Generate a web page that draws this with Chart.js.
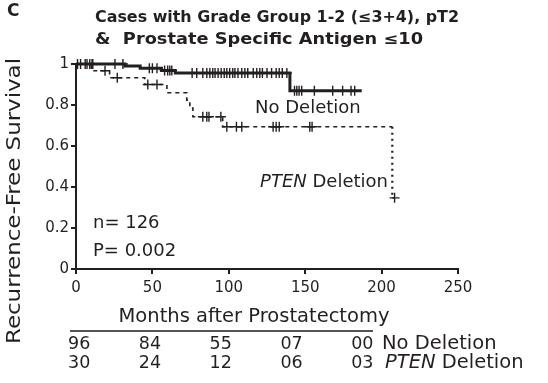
<!DOCTYPE html>
<html><head><meta charset="utf-8">
<script src="https://cdn.jsdelivr.net/npm/chart.js@4/dist/chart.umd.min.js"></script>
<style>html,body{margin:0;padding:0;background:#fff}#wrap{width:548px;height:383px;position:relative}</style>
</head><body><div id="wrap"><canvas id="c" width="548" height="383"></canvas></div>
<script>
// ---- data ----
const panelLabel = 'C';
const titleLines = ['Cases with Grade Group 1-2 (\u22643+4), pT2', '&  Prostate Specific Antigen \u226410'];
const xAxisTitle = 'Months after Prostatectomy';
const yAxisTitle = 'Recurrence-Free Survival';
const xMin = 0, xMax = 250, xStep = 50;
const yMin = 0, yMax = 1, yStep = 0.2;

const noDelEventMonths = [32, 42, 56, 65, 140];
const noDelEventSurv   = [0.990, 0.979, 0.968, 0.956, 0.870];
const noDelCensorMonths = [1, 3, 6, 7.2, 9, 10.5, 11, 25.5, 30.7, 48, 50, 53, 58, 60, 61.4, 62.7,
  76, 79, 83, 85.6, 87.6, 89.5, 91, 93, 95, 97, 98.7, 100.6, 102.6, 104, 106, 108.5, 110.5, 112.4,
  116, 118.3, 120.3, 122, 125, 128, 131, 133, 135, 138, 143, 144.5, 146, 147.7, 156, 168, 174.5,
  180, 182.4];
const noDelEndMonth = 187;

const ptenEventMonths = [10, 22, 45, 59.5, 72.5, 74.5, 76.5, 96, 207];
const ptenEventSurv   = [0.967, 0.933, 0.900, 0.860, 0.824, 0.785, 0.743, 0.694, 0.347];
const ptenCensorMonths = [19, 27, 47, 53, 83, 85.6, 87, 94.8, 98.7, 105, 108.5, 129, 131, 133, 153, 154.5, 208.5];
const ptenEndMonth = 208.5;

const curveLabels = ['No Deletion', 'PTEN Deletion'];
const riskTimes = [0, 50, 100, 150, 200];
const riskNoDel = ['96', '84', '55', '07', '00'];
const riskPten  = ['30', '24', '12', '06', '03'];
const statN = 'n= 126';
const statP = 'P= 0.002';

// ---- helpers ----
function stepPoints(times, surv, endT) {
  const pts = [{x: 0, y: 1}];
  let prev = 1;
  times.forEach((t, i) => { pts.push({x: t, y: prev}); pts.push({x: t, y: surv[i]}); prev = surv[i]; });
  pts.push({x: endT, y: prev});
  return pts;
}
function survAt(times, surv, t) {
  let s = 1;
  times.forEach((et, i) => { if (et <= t) s = surv[i]; });
  return s;
}
const INK = '#231f20';
const FONT = '"DejaVu Sans", Verdana, sans-serif';

const noDelLine = stepPoints(noDelEventMonths, noDelEventSurv, noDelEndMonth);
const ptenLine = stepPoints(ptenEventMonths, ptenEventSurv, ptenEndMonth);
const noDelCens = noDelCensorMonths.map(t => ({x: t, y: survAt(noDelEventMonths, noDelEventSurv, t)}));
const ptenCens = ptenCensorMonths.map(t => ({x: t, y: survAt(ptenEventMonths, ptenEventSurv, t)}));

function fitText(ctx, text, x, y, font, width, align) {
  ctx.font = font;
  const w = ctx.measureText(text).width;
  const s = width / w;
  ctx.save();
  ctx.translate(x, y);
  ctx.scale(s, 1);
  ctx.textAlign = align;
  ctx.fillText(text, 0, 0);
  ctx.restore();
}

const textPlugin = {
  id: 'texts',
  afterDraw(chart) {
    const ctx = chart.ctx;
    ctx.save();
    ctx.fillStyle = INK;
    ctx.textBaseline = 'middle';
    // panel label
    ctx.font = 'bold 17px ' + FONT;
    ctx.textAlign = 'left';
    ctx.fillText(panelLabel, 7, 12);
    // title
    fitText(ctx, titleLines[0], 95, 18, 'bold 15px ' + FONT, 364, 'left');
    fitText(ctx, titleLines[1], 95, 40, 'bold 15px ' + FONT, 328, 'left');
    // y axis title
    ctx.save();
    ctx.translate(15, 201);
    ctx.rotate(-Math.PI / 2);
    fitText(ctx, yAxisTitle, 0, 0, '20px ' + FONT, 286, 'center');
    ctx.restore();
    // x axis title
    ctx.textAlign = 'center';
    ctx.font = '19.5px ' + FONT;
    ctx.fillText(xAxisTitle, 254, 317);
    // stats
    ctx.textAlign = 'left';
    ctx.font = '18px ' + FONT;
    ctx.fillText(statN, 93, 223);
    ctx.fillText(statP, 93, 251);
    // curve labels
    ctx.font = '18px ' + FONT;
    ctx.fillText(curveLabels[0], 255, 108);
    drawPten(ctx, 388, 182, 'right', 18);
    // risk table
    ctx.strokeStyle = '#555';
    ctx.lineWidth = 2;
    ctx.beginPath(); ctx.moveTo(70, 331); ctx.lineTo(373, 331); ctx.stroke();
    ctx.font = '17.5px ' + FONT;
    ctx.textAlign = 'left';
    riskTimes.forEach((t, i) => {
      const x = 68 + i * 70.8;
      ctx.fillText(riskNoDel[i], x, 344);
      ctx.fillText(riskPten[i], x, 363);
    });
    ctx.font = '19.5px ' + FONT;
    ctx.fillText(curveLabels[0], 382, 344);
    drawPten(ctx, 385, 363, 'left', 19.5);
    ctx.restore();
  }
};
function drawPten(ctx, x, y, align, size) {
  const parts = curveLabels[1].split(' ');
  ctx.font = 'italic ' + size + 'px ' + FONT;
  const w1 = ctx.measureText(parts[0]).width;
  ctx.font = size + 'px ' + FONT;
  const w2 = ctx.measureText(' ' + parts[1]).width;
  const x0 = align === 'right' ? x - w1 - w2 : x;
  ctx.textAlign = 'left';
  ctx.font = 'italic ' + size + 'px ' + FONT;
  ctx.fillText(parts[0], x0, y);
  ctx.font = size + 'px ' + FONT;
  ctx.fillText(' ' + parts[1], x0 + w1, y);
}

new Chart(document.getElementById('c'), {
  type: 'scatter',
  data: {
    datasets: [
      {label: 'No Deletion', data: noDelLine, showLine: true, borderColor: INK, borderWidth: 3,
       pointRadius: 0, fill: false, clip: false, order: 2},
      {label: 'PTEN Deletion', data: ptenLine, showLine: true, borderColor: INK, borderWidth: 1.6,
       borderDash: [4, 4], pointRadius: 0, fill: false, clip: false, order: 2,
       segment: {borderDash: c => (c.p0.parsed.x === c.p1.parsed.x && (c.p0.parsed.y - c.p1.parsed.y) > 0.1) ? [2, 4] : [4, 4],
                 borderWidth: c => (c.p0.parsed.x === c.p1.parsed.x && (c.p0.parsed.y - c.p1.parsed.y) > 0.1) ? 2.2 : 1.6}},
      {label: 'No Deletion censored', data: noDelCens, pointStyle: 'cross', pointRadius: 5,
       borderColor: INK, borderWidth: 1.4, showLine: false, clip: false, order: 1},
      {label: 'PTEN censored', data: ptenCens, pointStyle: 'cross', pointRadius: 5,
       borderColor: INK, borderWidth: 1.4, showLine: false, clip: false, order: 1}
    ]
  },
  options: {
    responsive: false,
    animation: false,
    events: [],
    layout: {padding: {left: 0, top: 64, right: 90, bottom: 84}},
    plugins: {legend: {display: false}, tooltip: {enabled: false}, title: {display: false}},
    scales: {
      x: {
        type: 'linear', min: xMin, max: xMax,
        afterFit: s => { s.height = 30; },
        border: {display: true, color: INK, width: 2},
        grid: {display: true, drawOnChartArea: false, drawTicks: true, tickLength: 5, color: INK, lineWidth: 2},
        ticks: {stepSize: xStep, color: INK, font: {family: FONT, size: 15}, padding: 5, maxRotation: 0}
      },
      y: {
        type: 'linear', min: yMin, max: yMax,
        afterFit: s => { s.width = 76; },
        border: {display: true, color: INK, width: 2},
        grid: {display: true, drawOnChartArea: false, drawTicks: true, tickLength: 5, color: INK, lineWidth: 2},
        ticks: {stepSize: yStep, color: INK, font: {family: FONT, size: 15}, padding: 2,
                callback: v => String(Math.round(v * 10) / 10)}
      }
    }
  },
  plugins: [textPlugin]
});
</script>
</body></html>
